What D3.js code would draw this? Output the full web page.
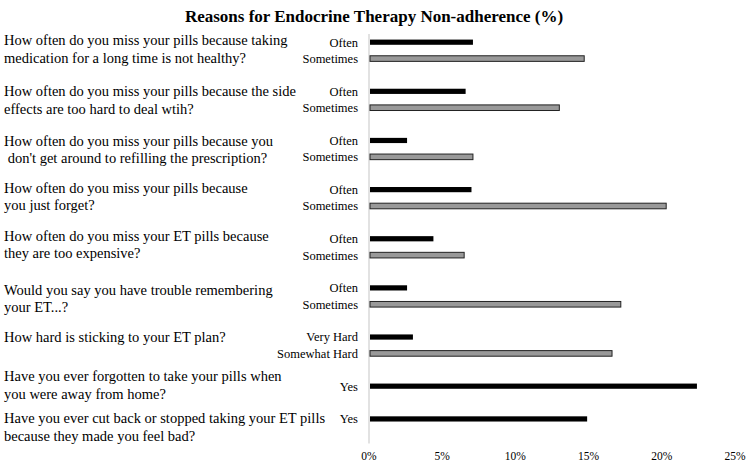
<!DOCTYPE html>
<html>
<head>
<meta charset="utf-8">
<script src="https://cdn.jsdelivr.net/npm/d3@7"></script>
<style>
  html, body { margin: 0; padding: 0; background: #fff; }
  svg { display: block; }
  text { font-family: "Liberation Serif", "Times New Roman", serif; fill: #000; }
</style>
</head>
<body>
<svg id="chart" width="750" height="466"></svg>
<script>
// ---------- data ----------
const chartTitle = "Reasons for Endocrine Therapy Non-adherence (%)";
const questions = [
  ["How often do you miss your pills because taking", "medication for a long time is not healthy?"],
  ["How often do you miss your pills because the side", "effects are too hard to deal wtih?"],
  ["How often do you miss your pills because you", " don't get around to refilling the prescription?"],
  ["How often do you miss your pills because", "you just forget?"],
  ["How often do you miss your ET pills because", "they are too expensive?"],
  ["Would you say you have trouble remembering", "your ET...?"],
  ["How hard is sticking to your ET plan?"],
  ["Have you ever forgotten to take your pills when", "you were away from home?"],
  ["Have you ever cut back or stopped taking your ET pills", "because they made you feel bad?"]
];
const responses = [
  ["Often", "Sometimes"],
  ["Often", "Sometimes"],
  ["Often", "Sometimes"],
  ["Often", "Sometimes"],
  ["Often", "Sometimes"],
  ["Often", "Sometimes"],
  ["Very Hard", "Somewhat Hard"],
  ["Yes"],
  ["Yes"]
];
const firstValues  = [7.1, 6.6, 2.6, 7.0, 4.4, 2.6, 3.0, 22.4, 14.9];   // black bars
const secondValues = [14.7, 13.0, 7.1, 20.3, 6.5, 17.2, 16.6, null, null]; // grey bars
const xTicks = [0, 5, 10, 15, 20, 25];

// ---------- layout ----------
const svg = d3.select("#chart");
const plotLeft = 369, plotRight = 735, plotTop = 34, plotBottom = 443.5;

// build row slots: each question's responses followed by an empty spacer row
const rows = [];
questions.forEach((q, qi) => {
  responses[qi].forEach((r, ri) => {
    rows.push({ key: `q${qi}r${ri}`, q: qi, r: ri, label: r,
      value: ri === 0 ? firstValues[qi] : secondValues[qi] });
  });
  rows.push({ key: `q${qi}gap`, q: qi, r: -1, label: "", value: null });
});

const x = d3.scaleLinear().domain([0, 25]).range([plotLeft, plotRight]);
const y = d3.scaleBand().domain(rows.map(d => d.key)).range([plotTop, plotBottom]).paddingInner(0).paddingOuter(0);
const cy = k => y(k) + y.bandwidth() / 2;

// title
svg.append("text")
  .attr("x", 374).attr("y", 22)
  .attr("text-anchor", "middle")
  .attr("font-weight", "bold")
  .attr("font-size", 17)
  .text(chartTitle);

// vertical axis line
svg.append("line")
  .attr("x1", x(0)).attr("x2", x(0))
  .attr("y1", plotTop).attr("y2", plotBottom)
  .attr("stroke", "#d9d9d9").attr("stroke-width", 1.5);

// bars
const barRows = rows.filter(d => d.value != null);
svg.append("g").selectAll("rect")
  .data(barRows)
  .join("rect")
  .attr("x", x(0) + 1)
  .attr("y", d => cy(d.key) - (d.r === 0 ? 2.6 : 2.8))
  .attr("width", d => x(d.value) - x(0) - 1)
  .attr("height", d => d.r === 0 ? 5.2 : 5.6)
  .attr("fill", d => d.r === 0 ? "#000" : "#999")
  .attr("stroke", d => d.r === 0 ? "none" : "#222")
  .attr("stroke-width", 1);

// response labels
svg.append("g").selectAll("text")
  .data(barRows)
  .join("text")
  .attr("x", 358)
  .attr("y", d => cy(d.key))
  .attr("dy", "0.35em")
  .attr("text-anchor", "end")
  .attr("font-size", 12.5)
  .text(d => d.label);

// question labels
const qShift = [-2, 0, 0, -2, -3, 2, 0, -10, -1];
const qGroup = svg.append("g");
questions.forEach((lines, qi) => {
  const y0 = cy(`q${qi}r0`) + qShift[qi];
  lines.forEach((ln, li) => {
    qGroup.append("text")
      .attr("x", 4)
      .attr("y", y0 + li * 17.5)
      .attr("dy", "0.35em")
      .attr("font-size", 14.5)
      .attr("xml:space", "preserve")
      .style("white-space", "pre")
      .text(ln);
  });
});

// x axis tick labels
svg.append("g").selectAll("text")
  .data(xTicks)
  .join("text")
  .attr("x", d => x(d))
  .attr("y", 456)
  .attr("dy", "0.35em")
  .attr("text-anchor", "middle")
  .attr("font-size", 11.5)
  .text(d => d + "%");
</script>
</body>
</html>
